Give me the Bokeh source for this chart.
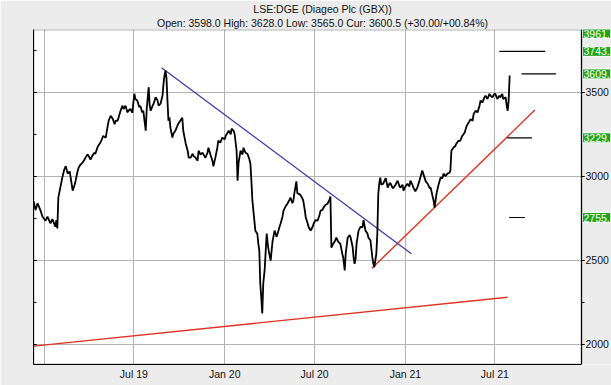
import pandas as pd
from bokeh.plotting import figure
from bokeh.models import (LinearAxis, SingleIntervalTicker, FixedTicker, CustomJSTickFormatter,
                          Title, Label, Range1d, BoxAnnotation)
from bokeh.embed import file_html
from bokeh.resources import INLINE

# ---------------- data ----------------
BASE_DATE = "2019-01-01"
# trading-day positions, in days after BASE_DATE
price_day = [-22, -18, -14, -8, -4, 2, 6, 12, 16, 22, 24, 26, 28, 32, 36, 40, 43, 47, 51, 53, 57, 61, 63, 67, 69,
             73, 77, 81, 83, 87, 89, 93, 97, 101, 103, 107, 109, 113, 115, 119, 124, 128, 130, 134, 138, 142, 144,
             148, 150, 154, 158, 160, 164, 168, 170, 174, 178, 180, 182, 184, 188, 192, 194, 198, 200, 205, 207,
             209, 211, 213, 215, 219, 221, 225, 229, 231, 235, 239, 241, 243, 245, 247, 249, 251, 253, 255, 259,
             261, 265, 269, 271, 275, 279, 281, 286, 290, 292, 296, 300, 302, 306, 310, 312, 316, 320, 324, 326,
             330, 332, 336, 340, 342, 346, 350, 352, 356, 360, 365, 367, 371, 373, 377, 379, 383, 385, 389, 391,
             393, 397, 401, 403, 407, 411, 415, 417, 419, 421, 425, 427, 431, 433, 435, 437, 439, 441, 443, 446,
             448, 450, 452, 454, 458, 460, 462, 466, 470, 472, 476, 478, 482, 484, 488, 492, 496, 498, 502, 504,
             506, 508, 510, 512, 514, 518, 522, 524, 527, 529, 533, 535, 539, 543, 545, 549, 553, 557, 559, 563,
             565, 569, 573, 577, 579, 581, 583, 585, 589, 591, 595, 599, 603, 605, 608, 610, 614, 618, 620, 624,
             626, 628, 630, 632, 636, 640, 644, 646, 650, 654, 656, 660, 664, 666, 668, 670, 672, 674, 676, 678,
             680, 682, 686, 691, 695, 699, 701, 705, 707, 711, 715, 719, 721, 725, 727, 731, 735, 739, 741, 745,
             747, 751, 755, 759, 761, 765, 767, 772, 776, 780, 782, 786, 788, 790, 794, 798, 802, 806, 808, 812,
             816, 820, 822, 824, 828, 832, 834, 838, 842, 846, 851, 855, 859, 863, 867, 869, 873, 877, 881, 883,
             887, 891, 893, 897, 901, 903, 907, 911, 913, 917, 921, 923, 927, 929, 934, 936, 938, 940, 942]
price_close = [2850, 2800, 2840, 2796, 2760, 2736, 2760, 2720, 2745, 2700, 2740, 2690, 2873, 2933, 2992, 3040,
               3060, 3016, 3030, 2992, 2915, 2950, 2974, 3030, 3051, 3070, 3081, 3100, 3111, 3130, 3123, 3100,
               3123, 3140, 3134, 3170, 3182, 3200, 3212, 3240, 3230, 3300, 3331, 3360, 3343, 3310, 3331, 3330,
               3349, 3390, 3420, 3400, 3420, 3380, 3390, 3400, 3378, 3440, 3491, 3460, 3450, 3410, 3420, 3380,
               3390, 3271, 3400, 3467, 3530, 3420, 3390, 3420, 3432, 3470, 3450, 3420, 3432, 3480, 3550, 3600,
               3628, 3586, 3450, 3331, 3350, 3289, 3230, 3253, 3271, 3300, 3313, 3331, 3349, 3271, 3194, 3152,
               3111, 3111, 3134, 3120, 3111, 3093, 3152, 3130, 3140, 3120, 3111, 3140, 3170, 3130, 3093, 3060,
               3111, 3170, 3212, 3200, 3230, 3220, 3241, 3260, 3271, 3250, 3283, 3270, 3253, 3152, 2974, 3080,
               3152, 3130, 3170, 3140, 3134, 3100, 3075, 2974, 2855, 2736, 2677, 2659, 2600, 2558, 2362, 2279,
               2184, 2362, 2450, 2558, 2659, 2600, 2558, 2499, 2560, 2618, 2677, 2640, 2659, 2700, 2718, 2760,
               2796, 2820, 2837, 2860, 2873, 2840, 2855, 2900, 2933, 2970, 2900, 2897, 2890, 2870, 2855, 2800,
               2757, 2720, 2697, 2677, 2700, 2718, 2740, 2736, 2770, 2796, 2800, 2814, 2830, 2837, 2860, 2880,
               2576, 2590, 2600, 2620, 2635, 2610, 2600, 2540, 2517, 2440, 2540, 2635, 2650, 2635, 2580, 2517,
               2480, 2510, 2600, 2677, 2700, 2697, 2740, 2677, 2660, 2635, 2620, 2517, 2480, 2460, 2500, 2541,
               2659, 2897, 2960, 2992, 2950, 2956, 2990, 2933, 2960, 2956, 2930, 2933, 2950, 2974, 2940, 2933,
               2950, 2915, 2940, 2956, 2940, 2974, 2950, 2933, 2910, 2933, 2970, 2992, 3034, 3016, 2970, 2956,
               2930, 2933, 2880, 2855, 2814, 2900, 2950, 2992, 2990, 3016, 3000, 3016, 3020, 3034, 3152, 3170,
               3180, 3194, 3210, 3212, 3240, 3260, 3300, 3320, 3340, 3330, 3370, 3390, 3380, 3420, 3450, 3440,
               3470, 3480, 3460, 3490, 3480, 3470, 3490, 3490, 3460, 3480, 3470, 3490, 3460, 3470, 3420, 3390,
               3450, 3600]

trend_blue_dates = ["2019-08-26", "2021-01-13"]
trend_blue_values = [3646, 2540]
trend_red_up_dates = ["2020-10-25", "2021-09-20"]
trend_red_up_values = [2453, 3394]
trend_red_base_dates = ["2018-12-10", "2021-07-27"]
trend_red_base_values = [1990, 2281]

target_values = [3743, 3609, 3229, 2755]
target_start = ["2021-07-10", "2021-08-24", "2021-07-26", "2021-07-30"]
target_end = ["2021-10-11", "2021-11-02", "2021-09-14", "2021-08-31"]

label_values = [3961, 3743, 3609, 3229, 2755]
label_texts = ["3961.", "3743.", "3609.", "3229.", "2755."]

x_tick_dates = ["2019-01-01", "2019-07-01", "2020-01-01", "2020-07-01", "2021-01-01", "2021-07-01"]
x_tick_labels = ["", "Jul 19", "Jan 20", "Jul 20", "Jan 21", "Jul 21"]

title_line1 = "LSE:DGE (Diageo Plc (GBX))"
title_line2 = "Open: 3598.0 High: 3628.0 Low: 3565.0 Cur: 3600.5 (+30.00/+00.84%)"

X_START, X_DATA_END = "2018-12-09 17:00", "2021-12-23 12:00"
Y_START, Y_END = 1881, 3873

# ---------------- layout ----------------
W, H = 611, 385
LEFT, COL, BOTTOM = 33, 30, 21   # left border, right-hand label column, bottom border (px)
DATA_W = W - LEFT - COL          # width of the plotting area (px)

def ms(d):
    return pd.Timestamp(d).value // 10**6

x0, x1 = ms(X_START), ms(X_DATA_END)
x_full_end = x1 + (x1 - x0) * COL / DATA_W

base = pd.Timestamp(BASE_DATE)
px = [ms(base + pd.Timedelta(days=d)) for d in price_day]

FONT = "Liberation Sans"
BG = "#ececec"

p = figure(width=W, height=H, y_axis_location="right",
           x_range=Range1d(x0, x_full_end), y_range=Range1d(Y_START, Y_END),
           output_backend="svg", toolbar_location=None, title=None,
           min_border_left=LEFT, min_border_right=0, min_border_bottom=BOTTOM, min_border_top=0)

p.background_fill_color = "white"
p.border_fill_color = BG
p.outline_line_color = None

# grey column to the right of the plotting area (covers grid lines there)
p.add_layout(BoxAnnotation(left=x1, fill_color=BG, fill_alpha=1, line_color=None, level="underlay"))
# black frame around the plotting area
p.add_layout(BoxAnnotation(right=x1, fill_alpha=0, line_color="black", line_width=2, level="overlay"))

# right value axis, pinned at the end of the plotting area
ya = p.yaxis[0]
ya.fixed_location = x1
ya.ticker = SingleIntervalTicker(interval=500, num_minor_ticks=2)
ya.major_tick_out = 3
ya.major_tick_in = 0
ya.minor_tick_out = 3
ya.minor_tick_in = 0
ya.axis_line_color = "black"
ya.major_tick_line_color = "black"
ya.minor_tick_line_color = "black"
ya.major_label_text_font = FONT
ya.major_label_text_font_size = "10.5px"
ya.major_label_text_color = "#111111"
ya.major_label_standoff = 1

# left axis (ticks only)
la = LinearAxis(ticker=SingleIntervalTicker(interval=500, num_minor_ticks=2),
                formatter=CustomJSTickFormatter(code="return ''"))
la.major_tick_in = 3
la.major_tick_out = 0
la.minor_tick_in = 3
la.minor_tick_out = 0
la.major_label_standoff = 0
la.major_label_text_font_size = "1px"
la.axis_line_color = "black"
p.add_layout(la, "left")

# bottom (time) axis
tick_ms = [ms(d) for d in x_tick_dates]
xa = p.xaxis[0]
xa.bounds = (x0, x1)
xa.ticker = FixedTicker(ticks=tick_ms, minor_ticks=[])
xa.formatter = CustomJSTickFormatter(args=dict(tvals=tick_ms, tlabels=x_tick_labels), code="""
    for (let i = 0; i < tvals.length; i++) { if (Math.abs(tvals[i] - tick) < 1000) return tlabels[i]; }
    return '';
""")
xa.major_tick_in = 0
xa.major_tick_out = 0
xa.minor_tick_in = 0
xa.minor_tick_out = 0
xa.axis_line_color = "black"
xa.major_label_text_font = FONT
xa.major_label_text_font_size = "10.5px"
xa.major_label_text_color = "#111111"
xa.major_label_standoff = 3

p.xgrid.grid_line_color = "#b4b4b4"
p.ygrid.grid_line_color = "#b4b4b4"

# titles
p.add_layout(Title(text=title_line2, align="center", text_font=FONT, text_font_size="10.5px",
                   text_font_style="normal", text_color="#111111", standoff=1), "above")
p.add_layout(Title(text=title_line1, align="center", text_font=FONT, text_font_size="10.5px",
                   text_font_style="normal", text_color="#111111", standoff=0), "above")

# trend lines
p.line([ms(d) for d in trend_red_base_dates], trend_red_base_values, color="#dd3322", line_width=1.4)
p.line([ms(d) for d in trend_red_up_dates], trend_red_up_values, color="#dd3322", line_width=1.4)
p.line([ms(d) for d in trend_blue_dates], trend_blue_values, color="#3a3aa8", line_width=1.3)

# price
p.line(px, price_close, color="black", line_width=1.8)

# target lines
p.segment(x0=[ms(d) for d in target_start], y0=target_values,
          x1=[ms(d) for d in target_end], y1=target_values, color="black", line_width=1.2)

# green price labels in the right-hand column
for v, t in zip(label_values, label_texts):
    inside = v <= Y_END
    p.add_layout(Label(x=x1, y=v if inside else Y_END, text=t, x_offset=1,
                       y_offset=0 if inside else 1,
                       text_baseline="middle" if inside else "top", text_align="left",
                       text_font=FONT, text_font_size="10.5px", text_color="white",
                       background_fill_color="#1ea51e", border_line_color="white",
                       padding=1))

open("out.html", "w").write(file_html(p, INLINE))
